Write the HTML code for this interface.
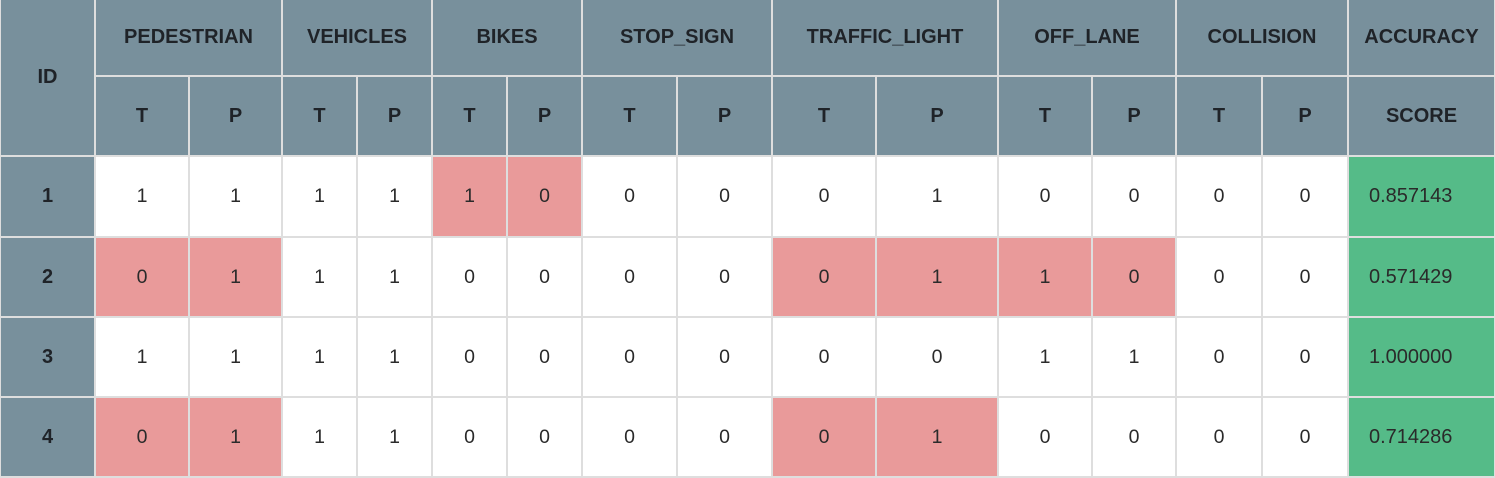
<!DOCTYPE html>
<html><head><meta charset="utf-8"><style>
body{margin:0;width:1495px;height:478px;background:#dedede;position:relative;overflow:hidden;font-family:"Liberation Sans",Arial,sans-serif;color:#222}
.c{position:absolute;display:flex;align-items:center;justify-content:center;box-sizing:border-box}
.h{background:#78909c;font-weight:bold;font-size:20px;color:#1f2328}
.b{background:#fff;font-size:19.5px;color:#2a2a2a}
.pk{background:#e99a9a}
.gr{background:#55bb88;justify-content:flex-start;padding-left:20px;font-size:20px}
</style></head><body>
<div id="root"></div>
<script>
const xs=[0,95,189,282,357,432,507,582,677,772,876,998,1092,1176,1262,1348,1495];
const ys=[0,76,156,237,317,397,477];
const groups=["PEDESTRIAN","VEHICLES","BIKES","STOP_SIGN","TRAFFIC_LIGHT","OFF_LANE","COLLISION"];
const ids=["1","2","3","4"];
const truth=[[1,1,1,0,0,0,0],[0,1,0,0,0,1,0],[1,1,0,0,0,1,0],[0,1,0,0,0,0,0]];
const pred=[[1,1,0,0,1,0,0],[1,1,0,0,1,0,0],[1,1,0,0,0,1,0],[1,1,0,0,1,0,0]];
const highlight=[[2],[0,4,5],[],[0,4]];
const scores=["0.857143","0.571429","1.000000","0.714286"];
const root=document.getElementById('root');
function cell(x0,x1,y0,y1,cls,txt,name){
  const d=document.createElement('div');
  d.className='c '+cls;
  d.style.left=(xs[x0]+1)+'px';
  d.style.top=(ys[y0]+(y0===0?0:1))+'px';
  d.style.width=(xs[x1]-xs[x0]-2)+'px';
  d.style.height=(ys[y1]-ys[y0]-(y0===0?1:2))+'px';
  d.textContent=txt;
  
  
  root.appendChild(d);
}
cell(0,1,0,2,'h','ID','id-header');
groups.forEach((g,i)=>{
  cell(1+2*i,3+2*i,0,1,'h',g,g.toLowerCase().replace('_','-')+'-header');
  cell(1+2*i,2+2*i,1,2,'h','T',g.toLowerCase().replace('_','-')+'-t-header');
  cell(2+2*i,3+2*i,1,2,'h','P',g.toLowerCase().replace('_','-')+'-p-header');
});
cell(15,16,0,1,'h','ACCURACY','accuracy-header');
cell(15,16,1,2,'h','SCORE','score-header');
ids.forEach((id,r)=>{
  cell(0,1,2+r,3+r,'h',id,'row-id-'+id);
  groups.forEach((g,i)=>{
    const pk=highlight[r].includes(i)?' pk':'';
    cell(1+2*i,2+2*i,2+r,3+r,'b'+pk,String(truth[r][i]),'cell-'+id+'-'+g.toLowerCase().replace('_','-')+'-t');
    cell(2+2*i,3+2*i,2+r,3+r,'b'+pk,String(pred[r][i]),'cell-'+id+'-'+g.toLowerCase().replace('_','-')+'-p');
  });
  cell(15,16,2+r,3+r,'b gr',scores[r],'score-'+id);
});
</script>
</body></html>
